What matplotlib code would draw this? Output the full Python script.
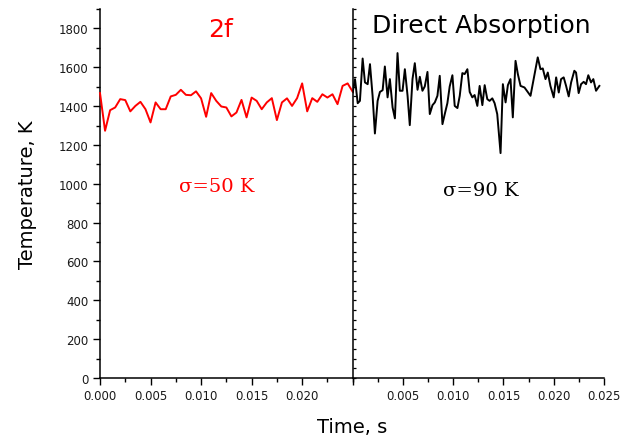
import numpy as np
import matplotlib
matplotlib.use("Agg")
import matplotlib.pyplot as plt
from matplotlib.ticker import MultipleLocator, NullFormatter

plt.rcParams['font.family'] = ['DejaVu Sans']

# 2f measurement, 0.5 ms steps
t_2f = np.arange(51) * 0.0005
T_2f = [1467, 1273, 1379, 1393, 1436, 1431, 1373, 1401, 1422, 1384,
        1316, 1419, 1384, 1384, 1450, 1458, 1484, 1458, 1456, 1476,
        1440, 1345, 1467, 1427, 1398, 1393, 1347, 1367, 1432, 1342,
        1444, 1427, 1384, 1419, 1441, 1328, 1419, 1440, 1401, 1441,
        1517, 1373, 1441, 1422, 1461, 1444, 1461, 1410, 1504, 1517,
        1474]

# direct absorption measurement
t_da = [0.00000, 0.00023, 0.00050, 0.00072, 0.00099, 0.00122, 0.00149, 0.00172,
        0.00198, 0.00221, 0.00248, 0.00271, 0.00298, 0.00320, 0.00347, 0.00370,
        0.00397, 0.00420, 0.00446, 0.00469, 0.00496, 0.00519, 0.00546, 0.00568,
        0.00595, 0.00618, 0.00645, 0.00668, 0.00694, 0.00717, 0.00744, 0.00767,
        0.00794, 0.00817, 0.00843, 0.00866, 0.00893, 0.00916, 0.00942, 0.00965,
        0.00992, 0.01015, 0.01042, 0.01065, 0.01091, 0.01114, 0.01141, 0.01164,
        0.01190, 0.01213, 0.01240, 0.01263, 0.01290, 0.01313, 0.01339, 0.01362,
        0.01389, 0.01412, 0.01438, 0.01471, 0.01494, 0.01521, 0.01544, 0.01570,
        0.01593, 0.01620, 0.01643, 0.01670, 0.01709, 0.01769, 0.01841, 0.01868,
        0.01891, 0.01918, 0.01941, 0.01967, 0.02000, 0.02024, 0.02050, 0.02073,
        0.02099, 0.02123, 0.02149, 0.02173, 0.02205, 0.02222, 0.02248, 0.02272,
        0.02298, 0.02321, 0.02344, 0.02371, 0.02394, 0.02421, 0.02454]
T_da = [1470, 1539, 1415, 1427, 1645, 1522, 1513, 1616, 1453, 1259,
        1427, 1473, 1482, 1604, 1445, 1539, 1393, 1337, 1673, 1479,
        1479, 1590, 1453, 1302, 1539, 1621, 1484, 1551, 1479, 1501,
        1576, 1359, 1405, 1419, 1453, 1556, 1307, 1359, 1415, 1501,
        1559, 1401, 1390, 1453, 1570, 1565, 1590, 1473, 1445, 1457,
        1401, 1504, 1405, 1508, 1436, 1427, 1440, 1415, 1359, 1158,
        1513, 1419, 1508, 1539, 1342, 1633, 1565, 1504, 1496, 1453,
        1651, 1590, 1594, 1539, 1573, 1504, 1445, 1548, 1470, 1539,
        1548, 1504, 1450, 1522, 1582, 1573, 1467, 1513, 1525, 1513,
        1559, 1522, 1539, 1479, 1504]

W, H = 627, 439
fig = plt.figure(figsize=(W / 100, H / 100), dpi=100)
ax1 = fig.add_axes([0.1595, 0.1367, 0.4030, 0.8405])
ax2 = fig.add_axes([0.5625, 0.1367, 0.4008, 0.8405])

ax1.plot(t_2f, T_2f, color='red', lw=1.4, clip_on=False, zorder=3)
ax2.plot(t_da, T_da, color='black', lw=1.4)

for ax in (ax1, ax2):
    ax.set_xlim(0, 0.025)
    ax.set_ylim(0, 1900)
    ax.spines['top'].set_visible(False)
    ax.spines['right'].set_visible(False)
    for s in ('left', 'bottom'):
        ax.spines[s].set_linewidth(1.1)
    ax.xaxis.set_major_locator(MultipleLocator(0.005))
    ax.xaxis.set_minor_locator(MultipleLocator(0.0025))
    ax.tick_params(axis='x', which='major', length=5, width=1.0, labelsize=8.5,
                   pad=3, labelcolor='#1a1a1a')
    ax.tick_params(axis='x', which='minor', length=3, width=1.0)
    ax.patch.set_alpha(0)

ax1.set_xticks([0, 0.005, 0.010, 0.015, 0.020])
ax1.set_xticklabels(['0.000', '0.005', '0.010', '0.015', '0.020'])
ax2.set_xticks([0, 0.005, 0.010, 0.015, 0.020, 0.025])
ax2.set_xticklabels(['', '0.005', '0.010', '0.015', '0.020', '0.025'])

ax1.yaxis.set_major_locator(MultipleLocator(200))
ax1.yaxis.set_minor_locator(MultipleLocator(100))
ax1.tick_params(axis='y', which='major', length=5, width=1.0, labelsize=8.5,
                labelcolor='#1a1a1a')
ax1.tick_params(axis='y', which='minor', length=3, width=1.0)

# divider axis: small inward ticks, no labels
ax2.yaxis.set_major_locator(MultipleLocator(50))
ax2.yaxis.set_major_formatter(NullFormatter())
ax2.tick_params(axis='y', which='major', direction='in', length=2, width=0.9)

fig.text(28 / W, 1 - 195 / H, 'Temperature, K', fontsize=14, rotation=90,
         ha='center', va='center')
fig.text(352 / W, 1 - 428 / H, 'Time, s', fontsize=14, ha='center', va='center')

fig.text(221 / W, 1 - 37 / H, '2f', color='red', fontsize=18,
         ha='center', va='baseline')
fig.text(481 / W, 1 - 33 / H, 'Direct Absorption', color='black', fontsize=18,
         ha='center', va='baseline')
fig.text(217 / W, 1 - 192 / H, 'σ=50 K', color='red', fontsize=14,
         family='DejaVu Serif', ha='center', va='baseline')
fig.text(481 / W, 1 - 196 / H, 'σ=90 K', color='black', fontsize=14,
         family='DejaVu Serif', ha='center', va='baseline')

fig.savefig('out.png', dpi=100)
